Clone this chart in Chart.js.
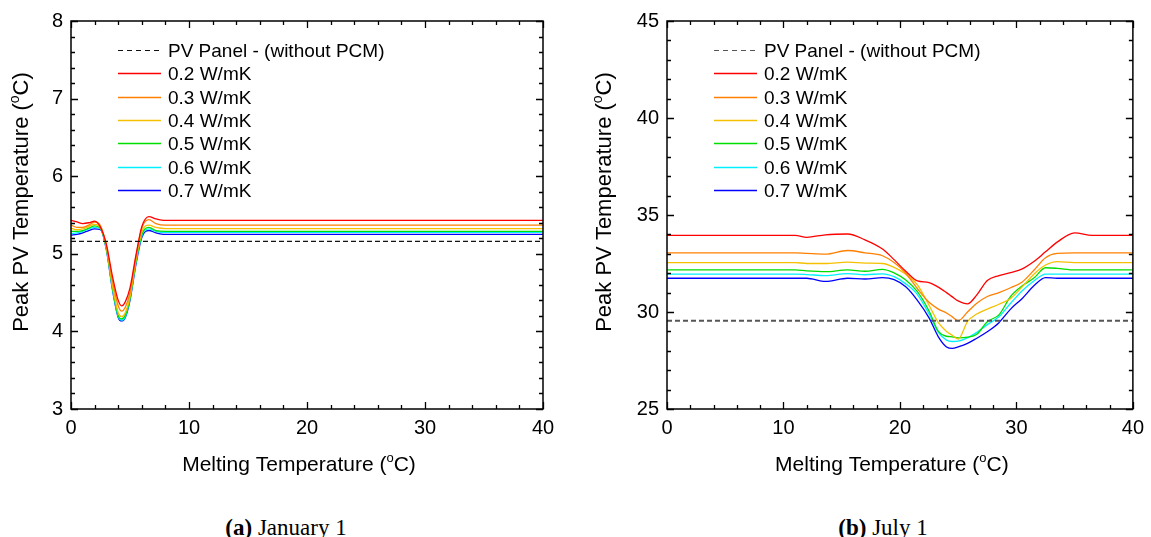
<!doctype html>
<html lang="en">
    <head>
        <title>Peak PV Temperature</title>
        <meta charset="utf-8">
        <script src="https://cdn.jsdelivr.net/npm/chart.js@4.4.1/dist/chart.umd.min.js"></script>
        <style>
            html, body { margin: 0; padding: 0; background: #fff; overflow: hidden; }
            body { width: 1151px; height: 537px; position: relative; }
            canvas { position: absolute; top: 0; }
            #janChart { left: 0; }
            #julChart { left: 580px; }
            .caption { position: absolute; top: 516px; font-family: "Liberation Serif", "DejaVu Serif", serif; font-size: 23px; line-height: 23px; color: #000; white-space: nowrap; transform: translateX(-50%); }
        </style>
    </head>
    <body>
        <canvas id="janChart" width="565" height="480"></canvas>
        <canvas id="julChart" width="571" height="480"></canvas>
        <div class="caption" style="left: 286px;"><b>(a)</b> January 1</div>
        <div class="caption" style="left: 883px;"><b>(b)</b> July 1</div>
        <script>
            // legend / series names
            var refLabel = "PV Panel - (without PCM)";
            var kLabels = ["0.2 W/mK", "0.3 W/mK", "0.4 W/mK", "0.5 W/mK", "0.6 W/mK", "0.7 W/mK"];
            var kColors = ["#ff0000", "#ff8000", "#f5c000", "#00dd00", "#00f0ff", "#0000ff"];

            // (a) January 1 - melting temperature (C) and peak PV temperature (C)
            var janX = [0, 0.5, 1, 1.5, 2, 2.5, 3, 3.5, 4, 4.3, 4.6, 5, 5.5, 6, 6.6, 7.2, 8, 40];
            var janRef = 5.16;
            var jan02 = [5.43, 5.41, 5.39, 5.40, 5.42, 5.34, 5.12, 4.72, 4.40, 4.33, 4.38, 4.56, 4.98, 5.35, 5.48, 5.45, 5.43, 5.43];
            var jan03 = [5.37, 5.34, 5.34, 5.37, 5.41, 5.36, 5.10, 4.66, 4.33, 4.26, 4.31, 4.50, 4.95, 5.33, 5.44, 5.39, 5.37, 5.37];
            var jan04 = [5.33, 5.31, 5.32, 5.35, 5.38, 5.34, 5.08, 4.60, 4.24, 4.19, 4.24, 4.45, 4.92, 5.28, 5.37, 5.34, 5.325, 5.325];
            var jan05 = [5.29, 5.29, 5.30, 5.33, 5.36, 5.33, 5.07, 4.58, 4.21, 4.16, 4.21, 4.43, 4.90, 5.25, 5.34, 5.30, 5.29, 5.29];
            var jan06 = [5.26, 5.27, 5.29, 5.32, 5.34, 5.32, 5.06, 4.56, 4.19, 4.145, 4.19, 4.42, 4.88, 5.23, 5.32, 5.29, 5.275, 5.275];
            var jan07 = [5.24, 5.25, 5.27, 5.30, 5.32, 5.31, 5.05, 4.55, 4.18, 4.135, 4.18, 4.40, 4.86, 5.21, 5.30, 5.27, 5.25, 5.25];

            // (b) July 1
            var julX = [0, 11, 12, 13.6, 15.5, 17, 18.5, 19.5, 20.5, 21.5, 22.5, 23.3, 24, 24.5, 25, 25.8, 26.6, 27.5, 28.5, 29.5, 30.5, 31.5, 32.5, 33.5, 35, 36.5, 40];
            var julRef = 29.55;
            var jul02 = [33.95, 33.95, 33.85, 33.98, 34.02, 33.72, 33.25, 32.7, 32.1, 31.6, 31.52, 31.28, 31.0, 30.78, 30.57, 30.42, 30.88, 31.62, 31.88, 32.03, 32.22, 32.6, 33.1, 33.6, 34.08, 33.95, 33.95];
            var jul03 = [33.05, 33.05, 33.02, 32.98, 33.17, 33.05, 32.9, 32.55, 32.0, 31.2, 30.5, 30.15, 29.95, 29.75, 29.55, 30.0, 30.45, 30.8, 31.0, 31.25, 31.55, 32.15, 32.8, 33.02, 33.05, 33.05, 33.05];
            var jul04 = [32.55, 32.55, 32.5, 32.5, 32.57, 32.52, 32.5, 32.3, 31.95, 31.4, 30.35, 29.45, 29.0, 28.8, 28.6, 29.5, 29.9, 30.15, 30.4, 30.7, 31.3, 31.95, 32.42, 32.6, 32.55, 32.55, 32.55];
            var jul05 = [32.17, 32.17, 32.12, 32.08, 32.17, 32.1, 32.2, 32.02, 31.65, 31.05, 30.05, 29.0, 28.75, 28.72, 28.67, 28.7, 28.85, 29.5, 29.85, 30.8, 31.35, 31.75, 32.28, 32.25, 32.17, 32.17, 32.17];
            var jul06 = [31.95, 31.95, 31.93, 31.88, 31.98, 31.92, 31.97, 31.82, 31.45, 30.9, 29.9, 28.95, 28.55, 28.48, 28.5, 28.67, 28.95, 29.35, 29.75, 30.45, 31.1, 31.6, 31.95, 31.95, 31.95, 31.95, 31.95];
            var jul07 = [31.74, 31.74, 31.74, 31.58, 31.74, 31.7, 31.77, 31.67, 31.3, 30.6, 29.7, 28.72, 28.2, 28.12, 28.2, 28.38, 28.65, 28.98, 29.45, 30.15, 30.7, 31.35, 31.77, 31.74, 31.74, 31.74, 31.74];

            // axis titles, the "o" is drawn raised like in the paper
            var xTitle = ["Melting Temperature (", "o", "C)"];
            var yTitle = ["Peak PV Temperature (", "o", "C)"];
            var fontFamily = "'Liberation Sans', Arial, sans-serif";

            function points(xs, ys) {
                return xs.map(function (x, i) { return {x: x, y: ys[i]}; });
            }

            function drawTitle(ctx, parts, size) {
                var big = size + "px " + fontFamily, small = Math.round(size * 0.62) + "px " + fontFamily;
                ctx.font = big;
                var w0 = ctx.measureText(parts[0]).width, w2 = ctx.measureText(parts[2]).width;
                ctx.font = small;
                var w1 = ctx.measureText(parts[1]).width;
                var x = -(w0 + w1 + w2) / 2;
                ctx.textAlign = "left";
                ctx.textBaseline = "middle";
                ctx.font = big;
                ctx.fillText(parts[0], x, 0);
                ctx.font = small;
                ctx.fillText(parts[1], x + w0, -size * 0.3);
                ctx.font = big;
                ctx.fillText(parts[2], x + w0 + w1, 0);
            }

            // inward tick marks on all four sides, the frame and axis titles
            var frameTicks = {
                id: "frameTicks",
                afterDraw: function (chart, args, opts) {
                    var ctx = chart.ctx;
                    var a = chart.chartArea;
                    ctx.save();
                    ctx.strokeStyle = "#000";
                    ctx.lineWidth = 1.3;
                    ctx.beginPath();
                    chart.scales.x.ticks.forEach(function (t) {
                        var px = Math.round(chart.scales.x.getPixelForValue(t.value)) + 0.5;
                        var len = t.label !== "" ? 7 : 4;
                        ctx.moveTo(px, a.bottom); ctx.lineTo(px, a.bottom - len);
                        ctx.moveTo(px, a.top); ctx.lineTo(px, a.top + len);
                    });
                    chart.scales.y.ticks.forEach(function (t) {
                        var py = Math.round(chart.scales.y.getPixelForValue(t.value)) + 0.5;
                        var len = t.label !== "" ? 7 : 4;
                        ctx.moveTo(a.left, py); ctx.lineTo(a.left + len, py);
                        ctx.moveTo(a.right, py); ctx.lineTo(a.right - len, py);
                    });
                    ctx.stroke();
                    ctx.lineWidth = 1.5;
                    ctx.strokeRect(a.left, a.top, a.right - a.left, a.bottom - a.top);

                    ctx.fillStyle = "#000";
                    ctx.save();
                    ctx.translate((a.left + a.right) / 2 - 8, a.bottom + 56);
                    drawTitle(ctx, xTitle, 21);
                    ctx.restore();
                    ctx.save();
                    ctx.translate(a.left - opts.yTitleGap, a.top + 181);
                    ctx.rotate(-Math.PI / 2);
                    drawTitle(ctx, yTitle, 22);
                    ctx.restore();
                    ctx.restore();
                }
            };

            // legend drawn inside the plot, upper left
            var innerLegend = {
                id: "innerLegend",
                afterDraw: function (chart) {
                    var ctx = chart.ctx;
                    var a = chart.chartArea;
                    var x0 = a.left + 47, x1 = a.left + 90, tx = a.left + 97;
                    ctx.save();
                    ctx.font = "19px " + fontFamily;
                    ctx.textBaseline = "middle";
                    ctx.fillStyle = "#000";
                    chart.data.datasets.forEach(function (ds, i) {
                        var y = Math.round(a.top + 29 + i * 23.3) + 0.5;
                        ctx.strokeStyle = ds.borderColor;
                        ctx.lineWidth = i === 0 ? 1.2 : 1.6;
                        ctx.setLineDash(i === 0 ? [5, 4] : []);
                        ctx.beginPath();
                        ctx.moveTo(x0, y); ctx.lineTo(x1, y);
                        ctx.stroke();
                        ctx.setLineDash([]);
                        ctx.fillText(ds.label, tx, y + 1);
                    });
                    ctx.restore();
                }
            };

            function makeChart(id, xs, ref, series, refColor, refWidth, yMin, yMax, yStep, yMajor, yAxisWidth, yTitleGap, rightPad) {
                var datasets = [{
                    label: refLabel,
                    data: points([xs[0], xs[xs.length - 1]], [ref, ref]),
                    borderColor: refColor,
                    borderWidth: refWidth,
                    borderDash: [5, 3],
                    pointRadius: 0,
                    fill: false
                }];
                series.forEach(function (ys, i) {
                    datasets.push({
                        label: kLabels[i],
                        data: points(xs, ys),
                        borderColor: kColors[i],
                        borderWidth: 1.3,
                        pointRadius: 0,
                        fill: false,
                        cubicInterpolationMode: "monotone"
                    });
                });

                var ctx = document.getElementById(id).getContext("2d");
                return new Chart(ctx, {
                    type: "line",
                    data: {datasets: datasets},
                    plugins: [frameTicks, innerLegend],
                    options: {
                        responsive: false,
                        animation: false,
                        layout: {padding: {top: 21, right: rightPad, bottom: 0, left: 0}},
                        plugins: {
                            legend: {display: false},
                            tooltip: {enabled: false},
                            frameTicks: {yTitleGap: yTitleGap}
                        },
                        scales: {
                            x: {
                                type: "linear",
                                min: 0, max: 40,
                                grid: {display: false, drawTicks: false},
                                border: {display: false},
                                ticks: {
                                    stepSize: 2,
                                    autoSkip: false,
                                    maxRotation: 0,
                                    padding: 7,
                                    color: "#000",
                                    font: {family: fontFamily, size: 20},
                                    callback: function (v) { return v % 10 === 0 ? String(v) : ""; }
                                },
                                afterFit: function (s) { s.height = 71; }
                            },
                            y: {
                                min: yMin, max: yMax,
                                grid: {display: false, drawTicks: false},
                                border: {display: false},
                                ticks: {
                                    stepSize: yStep,
                                    autoSkip: false,
                                    padding: 8,
                                    color: "#000",
                                    font: {family: fontFamily, size: 20},
                                    callback: function (v) {
                                        var r = Math.round(v);
                                        return (Math.abs(v - r) < 1e-6 && r % yMajor === 0) ? String(r) : "";
                                    }
                                },
                                afterFit: function (s) { s.width = yAxisWidth; }
                            }
                        }
                    }
                });
            }

            makeChart("janChart", janX, janRef, [jan02, jan03, jan04, jan05, jan06, jan07], "#111", 1.2, 3, 8, 0.2, 1, 71, 49, 22);
            makeChart("julChart", julX, julRef, [jul02, jul03, jul04, jul05, jul06, jul07], "#555", 1.8, 25, 45, 1, 5, 87, 62, 14);
        </script>
    </body>
</html>
